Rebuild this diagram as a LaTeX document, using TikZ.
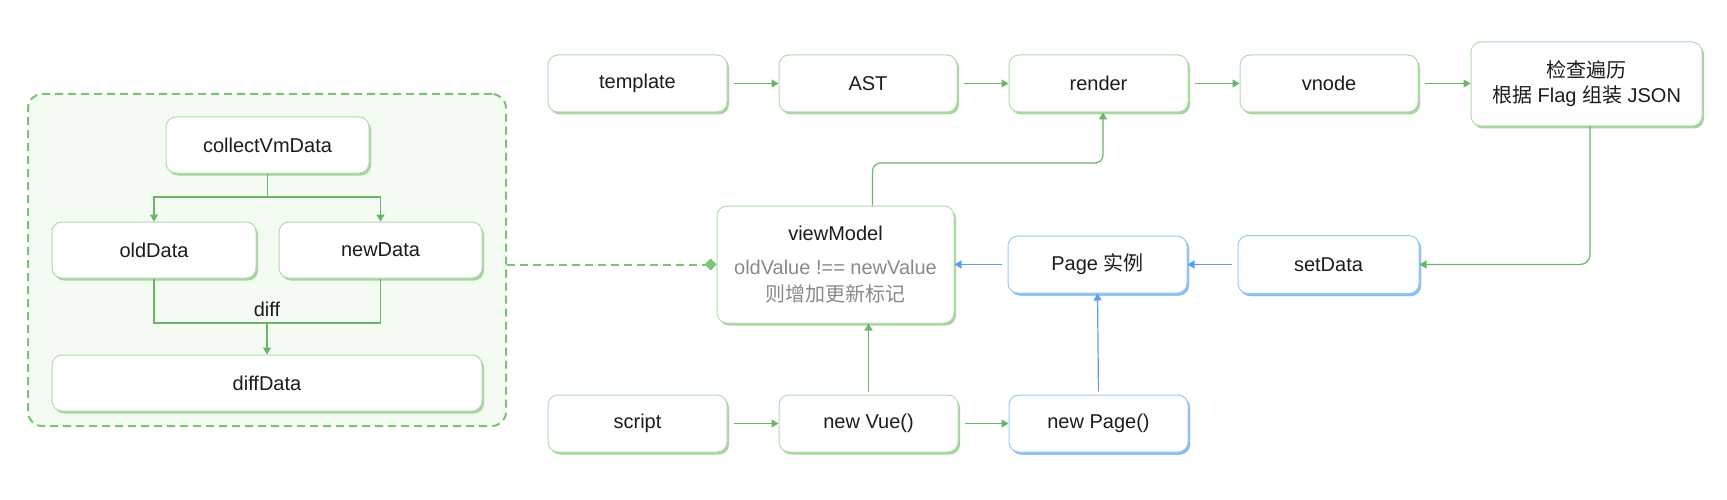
\documentclass[tikz,border=0pt]{standalone}
\usepackage{fontspec}
\setmainfont{Liberation Sans}
\newfontfamily\cjk{Noto Sans CJK SC}
\usetikzlibrary{arrows.meta,shadows}
\definecolor{gborder}{HTML}{B3DBAE}
\definecolor{gshadow}{HTML}{A6D59F}
\definecolor{garr}{HTML}{6DB46A}
\definecolor{bborder}{HTML}{9CC8F8}
\definecolor{bshadow}{HTML}{8CBBF5}
\definecolor{barr}{HTML}{5C9DF0}
\definecolor{dashc}{HTML}{7AC474}
\definecolor{grpfill}{HTML}{F3FBF2}
\definecolor{txt}{HTML}{1C1C1C}
\definecolor{graytxt}{HTML}{8A8A8A}
\begin{document}
\begin{tikzpicture}[x=1pt,y=-1pt,
  font=\fontsize{20}{24}\selectfont, text=txt,
  gbox/.style={draw=gborder, line width=1pt, fill=white, rounded corners=10pt,
    inner sep=0pt, align=center,
    general shadow={shadow xshift=2pt, shadow yshift=-2.5pt, fill=gshadow}},
  bbox/.style={gbox, draw=bborder,
    general shadow={shadow xshift=2pt, shadow yshift=-2.5pt, fill=bshadow}},
  grpbox/.style={draw=dashc, fill=grpfill, line width=2pt, dash pattern=on 8pt off 5pt,
    rounded corners=14pt, inner sep=0pt},
  garrow/.style={draw=garr, line width=1.2pt, -{Triangle[length=7pt,width=8pt]}},
  gline/.style={draw=garr, line width=1.2pt},
  barrow/.style={draw=barr, line width=1.2pt, -{Triangle[length=7pt,width=8pt]}},
  dashline/.style={draw=dashc, line width=2pt, dash pattern=on 8pt off 5pt,
    -{Diamond[length=12pt,width=12pt,fill=dashc,line width=0pt]}},
  lbl/.style={inner sep=0pt}
]
\useasboundingbox (0,0) rectangle (1727,500);

% group
\node[grpbox, minimum width=478pt, minimum height=332pt] (grp) at (267,260) {};
\node[gbox, minimum width=203pt, minimum height=56pt] (collect) at (267.5,145) {collectVmData};
\node[gbox, minimum width=204pt, minimum height=56pt] (old) at (154,250) {oldData};
\node[gbox, minimum width=203pt, minimum height=56pt] (new) at (380.5,250) {newData};
\node[gbox, minimum width=430pt, minimum height=56pt] (diffd) at (267,383) {diffData};
\node[lbl] (difflbl) at (267,309) {diff};
\coordinate (hj) at (0,197);
\coordinate (hk) at (0,323);
\draw[garrow] (collect.south) -- (collect.south |- hj) -| (old.north);
\draw[garrow] (collect.south) -- (collect.south |- hj) -| (new.north);
\draw[gline] (old.south) -- (old.south |- hk) -| (new.south);
\draw[garrow] (diffd.north |- hk) -- (diffd.north);

% top row
\node[gbox, minimum width=179pt, minimum height=57pt] (template) at (637.5,83.5) {template};
\node[gbox, minimum width=178pt, minimum height=57pt] (ast) at (868,83.5) {AST};
\node[gbox, minimum width=179pt, minimum height=57pt] (render) at (1098.5,83.5) {render};
\node[gbox, minimum width=178pt, minimum height=57pt] (vnode) at (1329,83.5) {vnode};
\node[gbox, minimum width=231pt, minimum height=84pt] (check) at (1586.5,84)
  {{\cjk 检查遍历}\\[1pt]{\cjk 根据} Flag {\cjk 组装} JSON};

% middle row
\node[gbox, minimum width=237pt, minimum height=117pt] (vm) at (835.5,264.5)
  {viewModel\\[10pt]{\color{graytxt}oldValue !== newValue}\\[3pt]{\color{graytxt}\cjk 则增加更新标记}};
\node[bbox, minimum width=179pt, minimum height=57pt] (page) at (1097.5,264.5) {Page {\cjk 实例}};
\node[bbox, minimum width=181pt, minimum height=58pt] (setdata) at (1328.5,264.5) {setData};

% bottom row
\node[gbox, minimum width=179pt, minimum height=57pt] (script) at (637.5,423.5) {script};
\node[gbox, minimum width=179pt, minimum height=57pt] (newvue) at (868.5,423.5) {new Vue()};
\node[bbox, minimum width=179pt, minimum height=57pt] (newpage) at (1098.5,423.5) {new Page()};

% connectors
\draw[garrow, shorten <=6pt] (template.east) -- (ast.west);
\draw[garrow, shorten <=6pt] (ast.east) -- (render.west);
\draw[garrow, shorten <=6pt] (render.east) -- (vnode.west);
\draw[garrow, shorten <=6pt] (vnode.east) -- (vnode.east -| check.west);
\coordinate (chk) at ([xshift=3.5pt]check.south);
\draw[garrow, rounded corners=10pt] (chk) |- (setdata.east);
\draw[barrow, shorten <=6pt] (setdata.west) -- (page.east);
\draw[barrow, shorten <=6pt] (page.west) -- (page.west -| vm.east);
\draw[barrow, shorten <=3pt] (newpage.north) -- (page.south);
\draw[garrow, shorten <=6pt] (script.east) -- (newvue.west);
\draw[garrow, shorten <=6pt] (newvue.east) -- (newpage.west);
\draw[garrow, shorten <=3pt] (newvue.north) -- (newvue.north |- vm.south);
\coordinate (vmtop) at ([xshift=37pt]vm.north);
\coordinate (rbot) at ([xshift=4.5pt]render.south);
\coordinate (hy) at (0,163);
\draw[garrow, rounded corners=8pt] (vmtop) -- (vmtop |- hy) -| (rbot);
\draw[dashline] (vm.west -| grp.east) -- (vm.west);
\end{tikzpicture}
\end{document}
